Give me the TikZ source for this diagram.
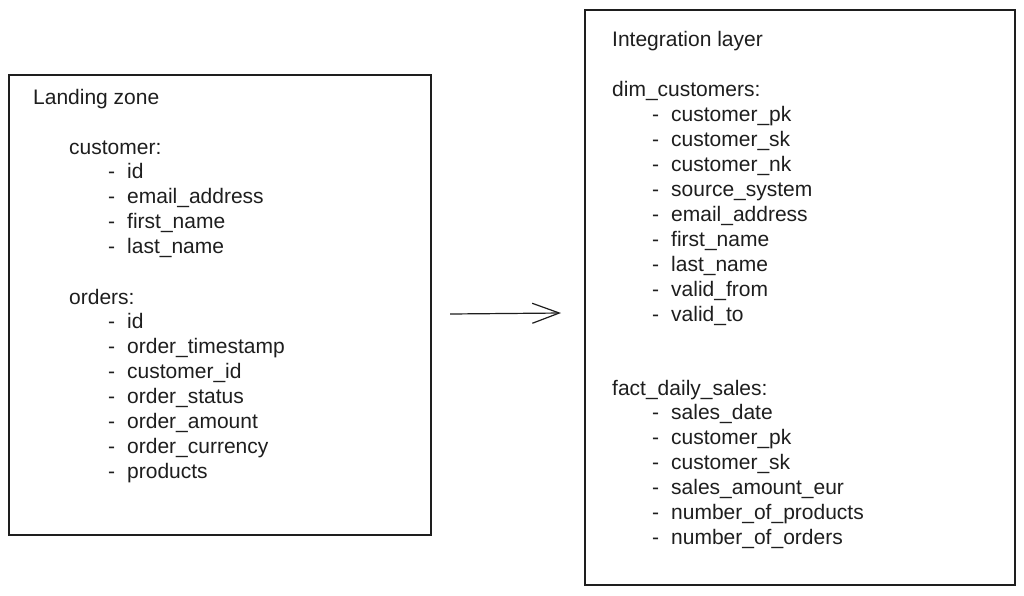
\documentclass[tikz,border=0pt]{standalone}
\usepackage{fontspec}
\setmainfont{Liberation Sans}
\usetikzlibrary{arrows.meta}
\definecolor{ink}{HTML}{1E1E1E}
\begin{document}
\begin{tikzpicture}[x=1pt,y=-1pt,
  box/.style={draw=ink, line width=1.3pt, rectangle, inner sep=0pt},
  txt/.style={anchor=base west, inner sep=0pt, text=ink, font=\fontsize{21}{25}\selectfont},
  arr/.style={draw=ink, line width=1.2pt, -{Straight Barb[length=27pt,width=20pt,line width=1.2pt]}}]
\useasboundingbox (0,0) rectangle (1024,595);
\fill[white] (0,0) rectangle (1024,595);
% boxes
\node[box, minimum width=422pt, minimum height=460pt] (L) at (220,305) {};
\node[box, minimum width=430pt, minimum height=575pt] (R) at (800,297.5) {};
% left box texts
\node[txt] (ltitle) at (33,104) {Landing zone};
\node[txt] (lcust) at (69,154) {customer:};
\foreach \t [count=\i] in {id, email\_address, first\_name, last\_name}
  \node[txt] (lc\i) at (108,178+25*\i-25) {-\hspace{12pt}\t};
\node[txt] (lord) at (69,304) {orders:};
\foreach \t [count=\i] in {id, order\_timestamp, customer\_id, order\_status, order\_amount, order\_currency, products}
  \node[txt] (lo\i) at (108,328+25*\i-25) {-\hspace{12pt}\t};
% right box texts
\node[txt] (rtitle) at (612,46) {Integration layer};
\node[txt] (rdim) at (612,96) {dim\_customers:};
\foreach \t [count=\i] in {customer\_pk, customer\_sk, customer\_nk, source\_system, email\_address, first\_name, last\_name, valid\_from, valid\_to}
  \node[txt] (rd\i) at (652,121+25*\i-25) {-\hspace{12pt}\t};
\node[txt] (rfact) at (612,395) {fact\_daily\_sales:};
\foreach \t [count=\i] in {sales\_date, customer\_pk, customer\_sk, sales\_amount\_eur, number\_of\_products, number\_of\_orders}
  \node[txt] (rf\i) at (652,419+25*\i-25) {-\hspace{12pt}\t};
% arrow
\coordinate (a1) at (450,314);
\coordinate (a2) at (561,313);
\draw[arr] (a1) -- (a2);
\end{tikzpicture}
\end{document}
